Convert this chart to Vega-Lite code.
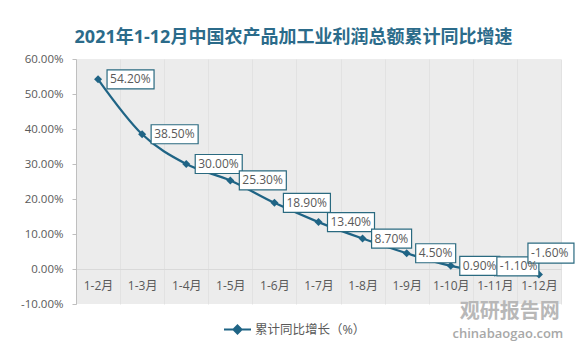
{
  "$schema": "https://vega.github.io/schema/vega-lite/v6.json",
  "width": 485,
  "height": 245,
  "autosize": {"type": "none"},
  "padding": {"left": 76, "top": 59, "right": 27, "bottom": 56},
  "background": "#ffffff",
  "config": {
    "font": "Open Sans, Noto Sans CJK SC",
    "view": {"stroke": null, "fill": "#ececec"},
    "locale": {"number": {"decimal": ".", "thousands": ",", "grouping": [3], "currency": ["", ""], "minus": "-"}}
  },
  "title": {
    "text": "2021年1-12月中国农产品加工业利润总额累计同比增速",
    "fontSize": 18,
    "fontWeight": "bold",
    "color": "#2b6b8a",
    "anchor": "middle",
    "dx": -25,
    "offset": 6
  },
  "data": {
    "values": [
      {"month": "1-2月", "value": 0.542, "series": "累计同比增长（%）"},
      {"month": "1-3月", "value": 0.385, "series": "累计同比增长（%）"},
      {"month": "1-4月", "value": 0.300, "series": "累计同比增长（%）"},
      {"month": "1-5月", "value": 0.253, "series": "累计同比增长（%）"},
      {"month": "1-6月", "value": 0.189, "series": "累计同比增长（%）"},
      {"month": "1-7月", "value": 0.134, "series": "累计同比增长（%）"},
      {"month": "1-8月", "value": 0.087, "series": "累计同比增长（%）"},
      {"month": "1-9月", "value": 0.045, "series": "累计同比增长（%）"},
      {"month": "1-10月", "value": 0.009, "series": "累计同比增长（%）"},
      {"month": "1-11月", "value": -0.011, "series": "累计同比增长（%）"},
      {"month": "1-12月", "value": -0.016, "series": "累计同比增长（%）"}
    ]
  },
  "encoding": {
    "x": {
      "field": "month",
      "type": "nominal",
      "sort": null,
      "scale": {"type": "band", "paddingInner": 0, "paddingOuter": 0},
      "axis": {
        "title": null,
        "labelAngle": 0,
        "labelFontSize": 12,
        "labelColor": "#595959",
        "labelPadding": 11,
        "domainColor": "#d9d9d9",
        "ticks": false,
        "grid": true,
        "gridColor": "#e2e2e2",
        "tickBand": "extent",
        "offset": -35
      }
    },
    "y": {
      "field": "value",
      "type": "quantitative",
      "scale": {"domain": [-0.1, 0.6], "nice": false, "zero": false},
      "axis": {
        "title": null,
        "values": [-0.1, 0, 0.1, 0.2, 0.3, 0.4, 0.5, 0.6],
        "format": ".2%",
        "labelFontSize": 11.5,
        "labelColor": "#595959",
        "labelPadding": 9,
        "domainColor": "#bfbfbf",
        "tickColor": "#bfbfbf",
        "tickSize": 4,
        "grid": false
      }
    }
  },
  "layer": [
    {
      "mark": {"type": "line", "interpolate": "monotone", "strokeWidth": 2.25},
      "encoding": {
        "color": {
          "field": "series",
          "type": "nominal",
          "scale": {"range": ["#1f6485"]},
          "legend": {
            "title": null,
            "orient": "none",
            "legendX": 147,
            "legendY": 256,
            "labelFontSize": 12.5,
            "labelColor": "#595959",
            "labelOffset": 3,
            "symbolType": "M-1,0H1M0,-0.3L0.3,0L0,0.3L-0.3,0Z",
            "symbolSize": 729,
            "symbolStrokeWidth": 2,
            "symbolFillColor": "#1f6485",
            "symbolStrokeColor": "#1f6485"
          }
        }
      }
    },
    {
      "mark": {"type": "point", "shape": "diamond", "filled": true, "size": 64, "color": "#1f6485", "opacity": 1}
    },
    {
      "mark": {"type": "point", "size": 4, "fill": "#ffffff", "stroke": "#2a6a80", "strokeWidth": 1.2, "opacity": 1, "fillOpacity": 1},
      "encoding": {
        "shape": {
          "condition": [
            {"test": "datum.month === '1-11月'", "value": "M2,-16H44V3H2Z"},
            {"test": "datum.month === '1-12月'", "value": "M-11,-31.5H35V-11.5H-11Z"},
            {"test": "abs(datum.value) >= 0.1", "value": "M9,-9.5H56V9.5H9Z"}
          ],
          "value": "M9,-9.5H49V9.5H9Z"
        }
      }
    },
    {
      "transform": [{"filter": "datum.month !== '1-11月' && datum.month !== '1-12月'"}],
      "mark": {"type": "text", "align": "left", "baseline": "middle", "dx": 12, "fontSize": 12, "color": "#595959"},
      "encoding": {"text": {"field": "value", "type": "quantitative", "format": ".2%"}}
    },
    {
      "transform": [{"filter": "datum.month === '1-11月'"}],
      "mark": {"type": "text", "align": "left", "baseline": "middle", "dx": 5, "dy": -6.5, "fontSize": 12, "color": "#595959"},
      "encoding": {"text": {"field": "value", "type": "quantitative", "format": ".2%"}}
    },
    {
      "transform": [{"filter": "datum.month === '1-12月'"}],
      "mark": {"type": "text", "align": "left", "baseline": "middle", "dx": -8, "dy": -21.5, "fontSize": 12, "color": "#595959"},
      "encoding": {"text": {"field": "value", "type": "quantitative", "format": ".2%"}}
    },
    {
      "transform": [{"filter": "datum.month === '1-12月'"}],
      "mark": {"type": "text", "align": "center", "baseline": "middle", "dx": 15, "fontSize": 20, "fontWeight": "bold", "color": "#b8b8b8", "clip": false},
      "encoding": {
        "x": {"datum": "1-11月"},
        "y": {"datum": -0.122},
        "text": {"value": "观研报告网"}
      }
    },
    {
      "transform": [{"filter": "datum.month === '1-12月'"}],
      "mark": {"type": "text", "align": "center", "baseline": "middle", "dx": 13, "fontSize": 13, "fontWeight": 600, "color": "#a8a8a8", "clip": false},
      "encoding": {
        "x": {"datum": "1-11月"},
        "y": {"datum": -0.185},
        "text": {"value": "chinabaogao.com"}
      }
    }
  ]
}
